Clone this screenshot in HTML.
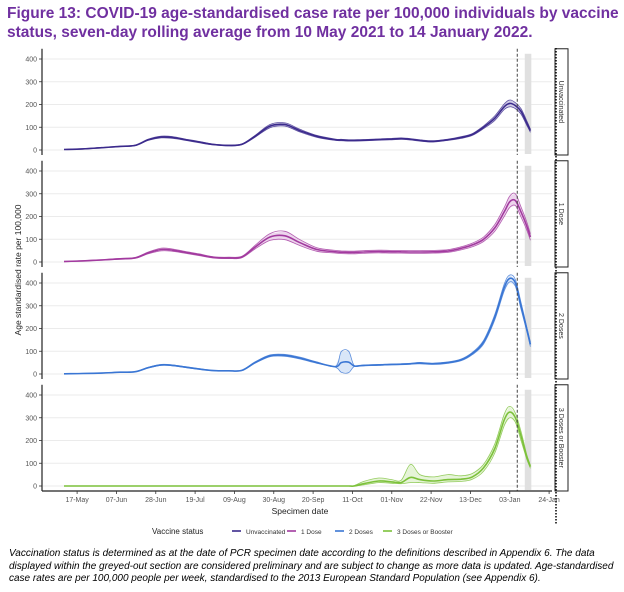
<!DOCTYPE html>
<html><head><meta charset="utf-8"><style>
body{margin:0;background:#fff;width:624px;height:592px;overflow:hidden;font-family:"Liberation Sans",sans-serif}
#title{position:absolute;left:7px;top:4px;width:615px;font-size:15.5px;font-weight:bold;color:#7030a0;line-height:19px}
#note{position:absolute;left:9px;top:548px;width:612px;font-size:10px;font-style:italic;color:#000;line-height:12.5px}
svg{position:absolute;left:0;top:0}
</style></head><body>
<div id="title">Figure 13: COVID-19 age-standardised case rate per 100,000 individuals by vaccine status, seven-day rolling average from 10 May 2021 to 14 January 2022.</div>
<svg id="chart" width="624" height="592"></svg>
<div id="note">Vaccination status is determined as at the date of PCR specimen date according to the definitions described in Appendix 6. The data displayed within the greyed-out section are considered preliminary and are subject to change as more data is updated. Age-standardised case rates are per 100,000 people per week, standardised to the 2013 European Standard Population (see Appendix 6).</div>
<script>
const days=[0,10,20,30,38,45,52,58,65,72,80,88,95,102,110,118,126,135,145,148,152,155,160,168,175,180,185,190,197,205,212,218,224,230,235,238,241,244,247,249];
const unvaxMid=[2,5,10,16,20,45,57,55,45,35,24,20,25,60,105,112,85,60,45,44,42,42,43,46,48,50,47,42,38,45,55,68,100,140,190,205,195,170,120,85];
const unvaxLo=[2,4,9,15,19,42,53,51,42,32,22,18,23,56,98,105,79,56,42,41,39,39,40,43,45,47,44,39,35,42,51,64,94,130,178,190,182,158,110,78];
const unvaxHi=[3,6,11,17,22,48,61,59,48,38,26,22,27,64,112,119,91,64,48,47,45,45,46,49,51,53,50,45,41,48,59,72,106,150,202,220,208,182,130,92];
const dose1Mid=[2,5,9,14,18,40,55,52,42,32,20,18,22,65,110,115,85,55,45,43,42,42,44,46,45,45,44,44,45,48,60,75,100,150,220,265,270,220,160,110];
const dose1Lo=[1,4,8,12,16,36,49,47,38,28,17,15,19,57,95,98,72,47,39,37,36,36,38,40,39,39,38,38,39,42,53,67,90,135,200,240,248,198,142,96];
const dose1Hi=[3,6,10,16,20,44,61,57,46,36,23,21,25,73,125,135,98,63,51,49,48,48,50,52,51,51,50,50,51,54,67,83,110,165,240,290,300,242,178,124];
const dose2Mid=[1,2,4,8,10,28,40,38,30,22,15,14,16,50,80,82,70,50,32,50,52,35,38,40,42,43,45,48,45,50,62,90,140,250,380,420,400,300,200,130];
const dose2Lo=[1,2,3,7,9,26,38,36,28,20,14,13,15,47,76,78,66,47,30,8,6,33,36,38,40,41,43,45,42,47,58,85,132,238,365,405,385,285,190,120];
const dose2Hi=[1,3,5,9,11,30,42,40,32,24,16,15,17,53,84,86,74,53,34,98,100,37,40,42,44,45,47,51,48,53,66,95,148,262,395,435,415,315,210,140];
const dose3Mid=[0,0,0,0,0,0,0,0,0,0,0,0,0,0,0,0,0,0,0,0,0,0,10,22,18,15,38,28,22,28,30,40,80,165,290,325,300,220,130,85];
const dose3Lo=[0,0,0,0,0,0,0,0,0,0,0,0,0,0,0,0,0,0,0,0,0,0,5,15,12,10,15,15,12,18,20,30,65,145,265,300,280,200,120,78];
const dose3Hi=[0,0,0,0,0,0,0,0,0,0,0,0,0,0,0,0,0,0,0,0,0,2,20,35,28,25,95,50,40,50,45,55,95,185,315,350,320,240,140,92];
const yTicks=[0,100,200,300,400];
const xTickLabels=["17-May","07-Jun","28-Jun","19-Jul","09-Aug","30-Aug","20-Sep","11-Oct","01-Nov","22-Nov","13-Dec","03-Jan","24-Jan"];
const xTickDays=[7,28,49,70,91,112,133,154,175,196,217,238,259];
const panelNames=["Unvaccinated","1 Dose","2 Doses","3 Doses or Booster"];
const markerDay=242, greyStart=246, greyEnd=249.5;

const NS="http://www.w3.org/2000/svg";
const svg=document.getElementById('chart');
function mk(tag,attrs,parent){const e=document.createElementNS(NS,tag);for(const k in attrs)e.setAttribute(k,attrs[k]);(parent||svg).appendChild(e);return e;}
const X=d=>64+d*1.873;
const PZ=[150,262,374,486];
const Y=(p,v)=>PZ[p]-v*91/400;
function path(p,arr){let pts=days.map((d,i)=>[X(d),Y(p,arr[i])]);let s="M"+pts[0][0].toFixed(1)+","+pts[0][1].toFixed(1);
 for(let i=0;i<pts.length-1;i++){const p0=pts[Math.max(0,i-1)],p1=pts[i],p2=pts[i+1],p3=pts[Math.min(pts.length-1,i+2)];
 const c1=[p1[0]+(p2[0]-p0[0])/6,p1[1]+(p2[1]-p0[1])/6],c2=[p2[0]-(p3[0]-p1[0])/6,p2[1]-(p3[1]-p1[1])/6];
 s+=` C${c1[0].toFixed(1)},${c1[1].toFixed(1)} ${c2[0].toFixed(1)},${c2[1].toFixed(1)} ${p2[0].toFixed(1)},${p2[1].toFixed(1)}`;}return s;}
const series=[[unvaxMid,unvaxLo,unvaxHi,"#3b2a8c","#bdb6de"],[dose1Mid,dose1Lo,dose1Hi,"#a23a9f","#e6c3e5"],[dose2Mid,dose2Lo,dose2Hi,"#3a76d4","#c9dcf5"],[dose3Mid,dose3Lo,dose3Hi,"#7cc13a","#dcf0c8"]];

for(let p=0;p<4;p++){
 const top=Y(p,445),bot=PZ[p]+5;
 const g=mk('g',{});
 
 
 yTicks.forEach(t=>{
  const gl=mk('line',{x1:43,x2:552,y1:Y(p,t),y2:Y(p,t),stroke:'#ebebeb','stroke-width':1},g);
  
  
  mk('line',{x1:39,x2:42,y1:Y(p,t),y2:Y(p,t),stroke:'#333','stroke-width':0.8},g);
  const tx=mk('text',{x:37,y:Y(p,t)+2.5,'text-anchor':'end','font-size':7,fill:'#555'},g);tx.textContent=t;
  
  
 });
 mk('rect',{x:X(greyStart),y:top+5,width:X(greyEnd)-X(greyStart),height:bot-top-6,fill:'#e0e0e0'},g);
 mk('line',{x1:42,x2:42,y1:top,y2:bot,stroke:'#222','stroke-width':1.2},g);
 const [m,lo,hi,c,f]=series[p];
 let poly=days.map((d,i)=>X(d).toFixed(1)+","+Y(p,hi[i]).toFixed(1)).concat(days.map((d,i)=>X(d).toFixed(1)+","+Y(p,lo[i]).toFixed(1)).reverse()).join(" ");
 const bf=mk('polygon',{points:poly,fill:f,opacity:0.7},g);
 
 
 [lo,hi].forEach(a=>{const l=mk('path',{d:path(p,a),fill:'none',stroke:c,'stroke-width':0.8,opacity:0.8},g);
  
  });
 const ml=mk('path',{d:path(p,m),fill:'none',stroke:c,'stroke-width':1.6},g);
 
 
 mk('line',{x1:X(markerDay),x2:X(markerDay),y1:top,y2:bot,stroke:'#444','stroke-width':1,'stroke-dasharray':'3,2'},g);
 const st=mk('rect',{x:555,y:top,width:13,height:bot-top,fill:'#fff',stroke:'#222','stroke-width':1},g);
 
 
 const sl=mk('text',{x:0,y:0,'font-size':7,fill:'#333','text-anchor':'middle',transform:`translate(559,${(top+bot)/2}) rotate(90)`},g);
 sl.textContent=panelNames[p];
 
 
}
mk('line',{x1:556,x2:556,y1:48,y2:525,stroke:'#111','stroke-width':1.6,'stroke-dasharray':'1.5,1.5'});
mk('line',{x1:42,x2:552,y1:491,y2:491,stroke:'#222','stroke-width':1.2});
xTickDays.forEach((d,i)=>{
 mk('line',{x1:X(d),x2:X(d),y1:491,y2:494,stroke:'#333','stroke-width':0.8});
 const t=mk('text',{x:X(d),y:502,'text-anchor':'middle','font-size':7,fill:'#555'});t.textContent=xTickLabels[i];
 
 
});
const xt=mk('text',{x:300,y:514,'text-anchor':'middle','font-size':8.5,fill:'#222'});xt.textContent='Specimen date';


const yt=mk('text',{x:0,y:0,'text-anchor':'middle','font-size':8.5,fill:'#222',transform:'translate(21,270) rotate(-90)'});yt.textContent='Age standardised rate per 100,000';


const lt=mk('text',{x:152,y:534,'font-size':8,fill:'#222'});lt.textContent='Vaccine status';


const legX=[232,287,335,383];
panelNames.forEach((n,i)=>{
 const g=mk('g',{});
 
 
 mk('line',{x1:legX[i],x2:legX[i]+9,y1:531,y2:531,stroke:series[i][3],'stroke-width':1.6},g);
 const t=mk('text',{x:legX[i]+14,y:534,'font-size':6.5,fill:'#333'},g);t.textContent=n;
});
</script>
</body></html>
